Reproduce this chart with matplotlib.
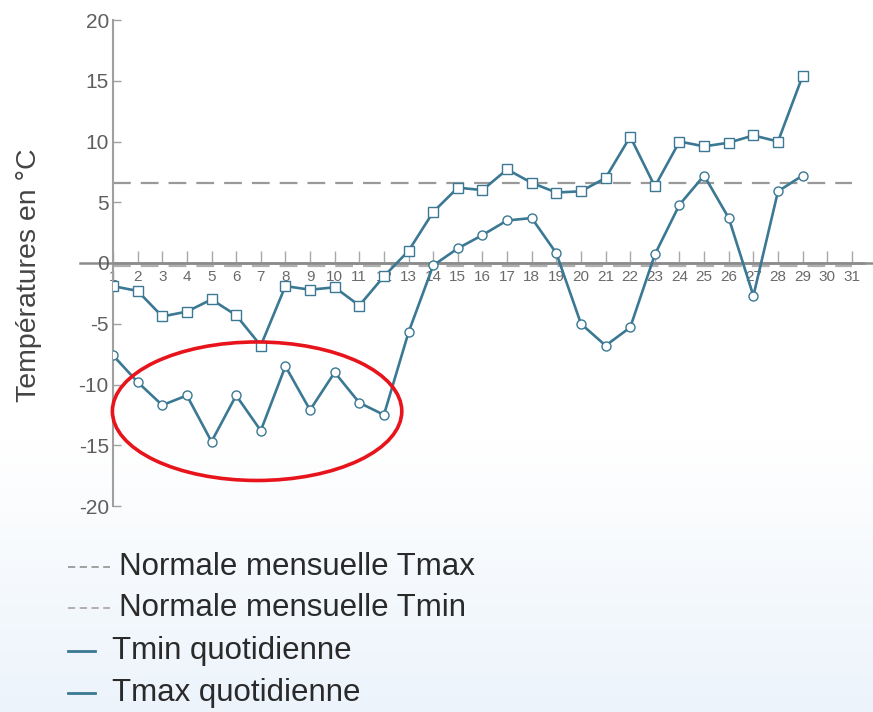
import numpy as np
import matplotlib
matplotlib.use("Agg")
import matplotlib.pyplot as plt
from matplotlib.lines import Line2D
from matplotlib.patches import Ellipse

plt.rcParams['font.family'] = ['Liberation Sans', 'DejaVu Sans']

# ---- data ----
days = list(range(1, 30))
tmax = [-1.9, -2.3, -4.4, -4.0, -3.0, -4.3, -6.8, -1.9, -2.2, -2.0, -3.5, -1.1,
        1.0, 4.2, 6.2, 6.0, 7.7, 6.6, 5.8, 5.9, 7.0, 10.4, 6.3, 10.0, 9.6, 9.9,
        10.5, 10.0, 15.4]
tmin = [-7.6, -9.8, -11.7, -10.9, -14.7, -10.9, -13.8, -8.5, -12.1, -9.0, -11.5,
        -12.5, -5.7, -0.2, 1.2, 2.3, 3.5, 3.7, 0.8, -5.0, -6.8, -5.3, 0.7, 4.8,
        7.2, 3.7, -2.7, 5.9, 7.2]
normal_tmax = 6.6
normal_tmin = -0.25
xtick_days = list(range(1, 32))
yticks = [-20, -15, -10, -5, 0, 5, 10, 15, 20]
legend_labels = ["Normale mensuelle Tmax", "Normale mensuelle Tmin",
                 "Tmin quotidienne", "Tmax quotidienne"]

W, H = 873, 712
fig = plt.figure(figsize=(W / 100, H / 100), dpi=100)

# background gradient
bg = fig.add_axes([0, 0, 1, 1], zorder=-10)
grad = np.ones((H, 1, 3))
top_c = np.array([1.0, 1.0, 1.0])
bot_c = np.array([0.925, 0.955, 0.985])
for i in range(H):
    t = 0.0 if i < 440 else (i - 440) / (H - 440)
    grad[i, 0, :] = top_c * (1 - t) + bot_c * t
bg.imshow(grad, aspect='auto', extent=[0, 1, 0, 1], origin='upper')
bg.set_axis_off()

line_c = '#3a7893'
grey = '#8c8c8c'

left = 113 / W
bottom = (H - 506) / H
height = 486 / H
xlim = (1, 31.5)
width = (xlim[1] - xlim[0]) * 24.63 / W
ax = fig.add_axes([left, bottom, width, height])
ax.patch.set_alpha(0)
ax.set_xlim(*xlim)
ax.set_ylim(-20, 20)

for s in ['top', 'right']:
    ax.spines[s].set_visible(False)
ax.spines['left'].set_color('#a0a0a0')
ax.spines['left'].set_linewidth(1.5)

ax.set_yticks(yticks)
ax.set_yticklabels([str(v) for v in yticks])
ax.tick_params(axis='y', direction='in', length=6, width=1, colors='#a0a0a0',
               labelcolor='#5e5e5e', labelsize=15, pad=3)

# day ticks on zero line
ax.spines['bottom'].set_position(('data', 0))
ax.spines['bottom'].set_color(grey)
ax.spines['bottom'].set_linewidth(1.8)
ax.set_xticks(xtick_days)
ax.set_xticklabels([str(d) for d in xtick_days])
ax.tick_params(axis='x', direction='in', length=9, width=1, colors='#a8a8a8',
               labelcolor='#6a6a6a', labelsize=11, pad=5)
# zero line extension to the left and right
ax.axhline(0, xmin=-(113 - 80) / (width * W), xmax=(873 - 113) / (width * W),
           color=grey, lw=1.8, clip_on=False, zorder=1)

# normals
ax.plot([1, 31], [normal_tmax, normal_tmax], color='#999999', lw=1.6,
        dashes=(8, 4.5), zorder=2)
ax.plot([1, 31], [normal_tmin, normal_tmin], color='#b0b0b0', lw=1.6,
        dashes=(8, 4.5), zorder=0.5)

# series
ax.plot(days, tmin, color=line_c, lw=1.9, marker='o', ms=6.5,
        mfc='white', mec=line_c, mew=1.0, zorder=4)
ax.plot(days, tmax, color=line_c, lw=1.9, marker='s', ms=6.5,
        mfc='white', mec=line_c, mew=1.0, zorder=4)

ax.set_ylabel("Températures en °C", fontsize=20.5, color='#444444')
ax.yaxis.set_label_coords(-0.095, 0.475)

# red ellipse annotation
ax.add_patch(Ellipse((6.85, -12.2), 11.75, 11.4, fill=False, edgecolor='#e8141c',
                     lw=2.6, zorder=5, clip_on=False))

# legend (manual)
rows = [567, 608, 651, 693]
styles = [('dash', '#999999'), ('dash', '#aaaaaa'), ('solid', line_c), ('solid', line_c)]
for (kind, c), yp, lab in zip(styles, rows, legend_labels):
    yf = 1 - yp / H
    if kind == 'dash':
        fig.add_artist(Line2D([68 / W, 110 / W], [yf, yf], color=c, lw=1.3,
                              dashes=(4, 2.5)))
        xt = 119 / W
    else:
        fig.add_artist(Line2D([68 / W, 95 / W], [yf, yf], color=c, lw=2.0))
        xt = 112 / W
    fig.text(xt, yf, lab, fontsize=22.5, color='#2a2a2a', va='center', ha='left')

fig.savefig('out.png', dpi=100)
